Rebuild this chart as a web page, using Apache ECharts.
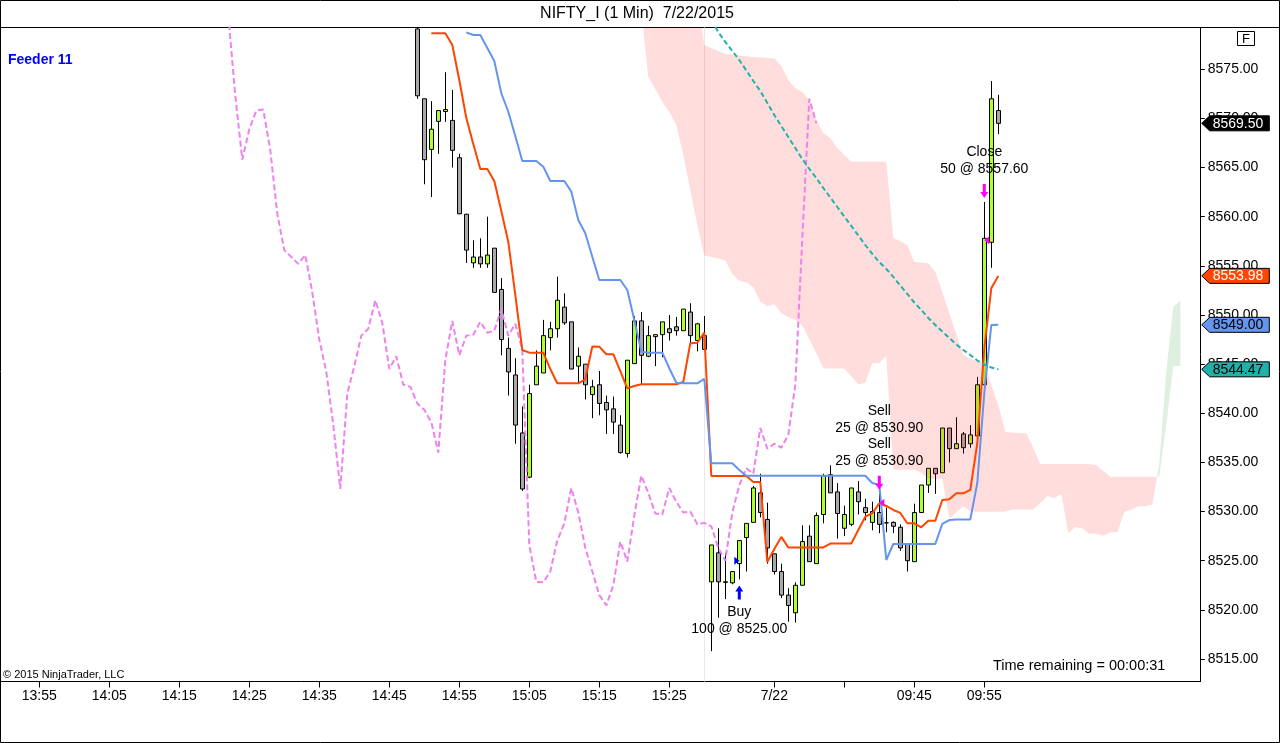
<!DOCTYPE html>
<html><head><meta charset="utf-8">
<script src="https://cdn.jsdelivr.net/npm/echarts@6/dist/echarts.min.js"></script>
<style>html,body{margin:0;padding:0;background:#fff}#c{width:1280px;height:743px}</style>
</head><body><div id="c"></div>
<script>
// ---------- data ----------
const chartTitle = 'NIFTY_I (1 Min)  7/22/2015';
const session1Start = '13:50', session1End = '15:30', session2Start = '09:16';
const totalSlots = 171;
const firstBarTime = '14:48';

const opens = [8584.0,8579.1,8572.0,8566.85,8569.7,8570.7,8569.8,8566.0,8560.25,8555.3,8555.9,
 8555.2,8556.8,8552.6,8546.6,8543.9,8538.0,8533.5,8542.9,8544.1,8547.7,
 8548.6,8550.8,8549.3,8544.8,8545.0,8541.9,8542.9,8541.1,8540.45,8538.8,
 8535.9,8545.05,8549.4,8545.8,8547.8,8548.0,8548.6,8548.8,8548.4,8550.3,
 8547.4,8547.9,8522.85,8525.8,8522.85,8522.75,8524.7,8527.35,8528.9,8531.9,
 8529.2,8525.7,8523.9,8521.5,8519.7,8522.5,8527.5,8524.7,8529.7,8533.75,
 8532.0,8528.3,8528.7,8532.0,8530.4,8528.9,8529.9,8528.85,8528.9,8528.4,
 8526.7,8524.9,8529.9,8532.7,8534.4,8533.95,8538.5,8536.4,8537.9,8536.9,
 8537.7,8542.9,8557.4,8570.8];
const highs = [8584.6,8579.2,8572.0,8571.75,8570.8,8574.7,8572.9,8566.4,8560.3,8557.6,8557.8,
 8560.0,8556.8,8553.75,8547.7,8545.6,8540.7,8542.9,8546.4,8549.5,8549.3,
 8553.9,8552.2,8549.3,8546.7,8545.0,8543.4,8544.3,8541.8,8541.7,8539.8,
 8545.4,8549.9,8550.3,8548.9,8548.0,8549.3,8550.0,8549.8,8550.6,8551.2,
 8549.2,8549.9,8526.6,8528.3,8525.8,8523.9,8527.05,8528.8,8532.6,8533.85,
 8530.9,8525.7,8524.7,8522.2,8522.8,8528.6,8528.6,8529.9,8533.85,8534.7,
 8532.9,8530.6,8532.4,8533.1,8531.3,8531.0,8531.8,8530.4,8529.0,8528.7,
 8526.8,8530.8,8532.7,8534.4,8534.4,8538.5,8538.5,8539.6,8538.1,8538.8,
 8543.7,8561.5,8573.8,8572.4];
const lows = [8580.0,8572.0,8563.3,8562.0,8566.4,8569.65,8565.0,8560.25,8555.3,8554.8,8554.8,
 8554.8,8552.3,8545.9,8541.8,8536.9,8532.1,8533.4,8542.9,8544.1,8546.4,
 8547.7,8549.0,8544.5,8543.0,8541.4,8539.5,8539.8,8537.9,8537.9,8535.9,
 8535.5,8545.05,8543.0,8545.7,8544.8,8545.7,8547.4,8547.9,8548.4,8547.05,
 8546.3,8546.5,8515.8,8519.2,8521.1,8522.6,8523.1,8523.9,8528.9,8529.4,
 8524.7,8523.6,8521.2,8518.8,8518.7,8522.5,8524.9,8524.7,8528.8,8531.9,
 8527.25,8527.5,8528.5,8529.7,8529.1,8528.1,8527.8,8527.9,8527.8,8526.0,
 8523.9,8524.9,8529.9,8531.9,8531.8,8533.95,8535.0,8536.4,8535.9,8536.5,
 8537.7,8542.9,8554.8,8568.4];
const closes = [8580.5,8572.3,8565.8,8568.9,8570.8,8570.9,8566.75,8560.3,8556.6,8555.9,8555.2,
 8556.1,8552.3,8547.5,8544.2,8538.8,8532.3,8542.0,8544.8,8547.9,8548.6,
 8551.5,8549.2,8544.5,8545.8,8542.9,8542.7,8541.0,8540.35,8539.1,8536.0,
 8545.4,8549.4,8545.9,8547.9,8548.0,8549.3,8548.2,8548.4,8550.6,8547.9,
 8549.1,8546.5,8526.6,8522.85,8522.8,8523.9,8527.05,8528.8,8532.4,8529.9,
 8526.3,8523.9,8521.5,8520.45,8522.5,8526.95,8524.9,8529.6,8533.65,8531.9,
 8529.8,8529.7,8532.4,8531.0,8529.9,8530.0,8528.7,8528.85,8528.5,8526.3,
 8525.0,8529.9,8532.7,8534.4,8533.85,8538.5,8536.4,8536.9,8536.5,8537.8,
 8542.9,8557.8,8572.0,8569.5];

// Ichimoku conversion line (orange), first value at bar index 3
const tenkanStart = 3;
const tenkan = [8578.66,8578.66,8578.66,8577.47,8573.91,8570.04,8567.40,8564.86,
 8564.86,8563.63,8560.58,8557.43,8552.04,8546.44,8546.17,8546.17,8546.17,8544.51,
 8543.05,8543.05,8543.05,8543.05,8543.46,8546.80,8546.78,8546.01,8546.01,8544.30,
 8542.53,8542.78,8542.96,8542.96,8542.96,8542.96,8542.96,8542.96,8543.18,8547.12,
 8547.18,8548.22,8533.62,8533.62,8533.62,8533.62,8533.62,8533.62,8533.01,8533.01,
 8524.87,8526.19,8527.42,8526.35,8526.35,8526.35,8526.35,8526.35,8526.35,8526.75,
 8526.75,8526.75,8526.75,8528.13,8529.48,8529.83,8530.84,8530.57,8530.16,8529.86,
 8528.81,8528.81,8528.40,8529.07,8529.07,8531.18,8531.25,8531.86,8531.86,8532.20,
 8536.95,8546.6,8552.72,8553.98];
// Ichimoku base line (blue), first value at bar index 8
const kijunStart = 8;
const kijun = [8578.76,8578.49,8578.49,
 8577.17,8575.84,8572.56,8570.68,8568.21,8565.67,8565.67,8565.67,8565.09,8563.63,
 8563.63,8563.63,8562.55,8559.67,8558.31,8555.93,8553.56,8553.56,8553.56,8553.56,
 8552.54,8549.49,8546.27,8546.17,8546.17,8546.17,8544.58,8543.11,8543.05,8543.05,
 8543.05,8543.49,8534.91,8534.91,8534.91,8534.91,8534.23,8533.65,8533.65,8533.65,
 8533.65,8533.65,8533.65,8533.65,8533.65,8533.65,8533.65,8533.65,8533.65,8533.65,
 8533.65,8533.65,8533.65,8533.65,8533.65,8532.91,8532.71,8525.07,8526.70,8526.70,
 8526.70,8526.70,8526.70,8526.70,8526.70,8528.74,8529.14,8529.20,8529.20,8529.20,
 8532.91,8542.07,8548.98,8549.00];
// moving average (teal dashed), first value at bar index 43
const maStart = 43;
const ma = [8580.01,8578.79,8577.78,8576.86,8575.94,8574.88,8573.81,8572.79,
 8571.57,8570.35,8569.23,8568.11,8566.99,8565.87,8564.86,8563.94,8562.92,8561.96,
 8560.99,8560.02,8559.06,8558.09,8557.12,8556.21,8555.39,8554.68,8553.87,8553.00,
 8552.14,8551.27,8550.51,8549.70,8548.98,8548.32,8547.66,8547.00,8546.44,8545.93,
 8545.37,8544.96,8544.66,8544.47];
// cloud (already displaced forward), first value at bar index 33
const cloudStart = 33;
const spanA = [8581,8574.25,8573.00,8571.70,8570.65,8569.33,8566.28,8562.72,8559.16,8556.05,
 8555.90,8555.75,8555.55,8554.17,8553.46,8553.34,8552.80,8551.35,8550.89,8551.10,
 8550.17,8549.79,8549.50,8548.93,8547.54,8546.14,8544.58,8544.56,8544.56,8544.56,
 8543.76,8542.94,8543.11,8545.09,8545.12,8545.86,8534.26,8534.26,8534.26,8534.26,
 8533.93,8533.33,8533.33,8533.33,8529.26,8529.92,8530.53,8530.02,8529.97,8529.97,
 8529.97,8529.97,8529.97,8530.2,8530.2,8530.2,8530.2,8530.88,8531.57,8531.38,
 8531.79,8527.82,8528.43,8528.28,8527.75,8527.75,8527.55,8527.89,8527.89,8529.96,
 8530.19,8530.53,8530.53,8530.70,8534.94,8544.34,8550.85,8551.49];
const spanB = [8582,8582,8582,8582,8582,8582,8582,8582,8582,8577.47,
 8577.17,8576.86,8576.56,8576.50,8576.40,8576.30,8576.25,8576.20,8576.15,8576.12,
 8575.34,8573.91,8573.10,8572.69,8571.88,8569.84,8568.52,8568.01,8566.99,8566.28,
 8565.60,8565.60,8565.60,8565.60,8565.60,8565.60,8557.84,8557.53,8557.12,8555.42,
 8555.34,8555.26,8554.41,8552.34,8550.20,8548.07,8545.93,8545.52,8545.32,8545.12,
 8542.88,8540.84,8538.13,8538.05,8538.00,8537.97,8536.47,8534.85,8534.85,8534.85,
 8534.85,8534.85,8534.85,8534.85,8534.85,8534.74,8534.13,8533.55,8533.55,8533.55,
 8533.55,8533.55,8533.55,8533.55,8533.55,8538.85,8544.8,8544.8];
const chikouShift = 26;

const tickTimes = ['13:55','14:05','14:15','14:25','14:35','14:45','14:55','15:05','15:15','15:25','09:25','09:35','09:45','09:55'];
const tickTexts = ['13:55','14:05','14:15','14:25','14:35','14:45','14:55','15:05','15:15','15:25','7/22','','09:45','09:55'];
const yTicks = [8515,8520,8525,8530,8535,8540,8545,8550,8555,8560,8565,8570,8575];
const yMin = 8512.71, yMax = 8579.25;

const tradeTimes = ['09:20','09:40','09:55'];
const tradePrices = [8525.00, 8530.90, 8557.60];
const tradeSides = ['buy','sell','sell'];
const tradeTexts = [['Buy','100 @ 8525.00'],['Sell','25 @ 8530.90','Sell','25 @ 8530.90'],['Close','50 @ 8557.60']];

// ---------- build ----------
const FONT = '"Liberation Sans", Arial, Helvetica, sans-serif';
function pad(n){return (n<10?'0':'')+n;}
function toMin(t){const p=t.split(':').map(Number);return p[0]*60+p[1];}
function fmt(m){return pad(Math.floor(m/60))+':'+pad(m%60);}
const categories = [];
for (let m=toMin(session1Start); m<=toMin(session1End); m++) categories.push(fmt(m));
for (let m=toMin(session2Start); categories.length<totalSlots; m++) categories.push(fmt(m));
const barStart = categories.indexOf(firstBarTime);

const candleData = opens.map((o,i)=>[barStart+i, o, closes[i], lows[i], highs[i]]);
const tenkanData = tenkan.map((v,j)=>[barStart+tenkanStart+j, v]);
const kijunData = kijun.map((v,j)=>[barStart+kijunStart+j, v]);
const maData = ma.map((v,j)=>[barStart+maStart+j, v]);
const chikouData = closes.map((c,i)=>[barStart+i-chikouShift, c]);
const lastSlot = barStart + closes.length - 1;

function clipY(pts, Y, keepBelow){
  const out=[]; const n=pts.length;
  const inside = p => keepBelow ? p[1] >= Y : p[1] <= Y;
  for (let i=0;i<n;i++){
    const cur=pts[i], prev=pts[(i+n-1)%n];
    const ci=inside(cur), pi=inside(prev);
    const inter = () => { const t=(Y-prev[1])/(cur[1]-prev[1]); return [prev[0]+t*(cur[0]-prev[0]), Y]; };
    if (ci){ if(!pi) out.push(inter()); out.push(cur); }
    else if (pi) out.push(inter());
  }
  return out;
}

function renderCloud(params, api){
  if (params.dataIndex !== 0) return null;
  const cs = params.coordSys;
  const n = spanA.length;
  const PA=[], PB=[], D=[];
  for (let i=0;i<n;i++){
    const s = barStart+cloudStart+i;
    PA.push(api.coord([s, spanA[i]])); PB.push(api.coord([s, spanB[i]]));
    D.push(spanB[i]-spanA[i]);
  }
  const polys=[];
  let upper=[], lower=[], sign = D[0]>=0 ? 1 : -1;
  for (let i=0;i<n;i++){
    upper.push(PB[i]); lower.push(PA[i]);
    if (i<n-1){
      const s2 = D[i+1]>=0 ? 1 : -1;
      if (s2!==sign){
        const t = D[i]/(D[i]-D[i+1]);
        const cx = PA[i][0]+t*(PA[i+1][0]-PA[i][0]);
        const cy = PA[i][1]+t*(PA[i+1][1]-PA[i][1]);
        upper.push([cx,cy]);
        polys.push({sign, pts: upper.concat(lower.slice().reverse())});
        upper=[[cx,cy]]; lower=[]; sign=s2;
      }
    }
  }
  polys.push({sign, pts: upper.concat(lower.slice().reverse())});
  const children = polys.map(p=>{
    let pts = clipY(p.pts, cs.y, true);
    pts = clipY(pts, cs.y+cs.height, false);
    return {type:'polygon', shape:{points:pts}, style:{fill: p.sign>0 ? 'rgba(255,0,0,0.135)' : 'rgba(0,128,0,0.12)'}};
  });
  return {type:'group', children};
}

function renderBreak(params, api){
  const cs = params.coordSys;
  const x = Math.round(api.coord([api.value(0), yMin])[0]) + 0.5;
  return {type:'line', shape:{x1:x, y1:cs.y, x2:x, y2:cs.y+cs.height}, style:{stroke:'#e8e8e8', lineWidth:1}};
}

function renderTrades(params, api){
  const i = params.dataIndex;
  const slot = api.value(0);
  const bar = slot - barStart;
  const buy = tradeSides[i] === 'buy';
  const color = buy ? '#0000FF' : '#FF00FF';
  const a = api.coord([slot, buy ? lows[bar] : highs[bar]]);
  const e = api.coord([slot, tradePrices[i]]);
  const cx = a[0], cy = a[1] + (buy ? 13 : -11);
  const s = buy ? -1 : 1;
  const children = [];
  children.push({type:'polygon', shape:{points:[[cx,cy+7*s],[cx-4,cy+1*s],[cx-1.5,cy+1*s],[cx-1.5,cy-7*s],[cx+1.5,cy-7*s],[cx+1.5,cy+1*s],[cx+4,cy+1*s]]}, style:{fill:color}});
  const ex=e[0], ey=e[1];
  const tri = buy ? [[ex,ey],[ex-5,ey-4],[ex-5,ey+4]] : [[ex,ey],[ex+5,ey-4],[ex+5,ey+4]];
  children.push({type:'polygon', shape:{points:tri}, style:{fill:color}});
  const lines = tradeTexts[i];
  lines.forEach((t,j)=>{
    const y = buy ? cy + 20 + 16.5*j : cy - 22 - 16.5*(lines.length-1-j);
    children.push({type:'text', style:{text:t, x:cx, y:y, fill:'#000', font:'14px '+FONT, align:'center', verticalAlign:'middle', textAlign:'center', textVerticalAlign:'middle'}});
  });
  return {type:'group', children};
}

const tagValues = [closes[closes.length-1], tenkan[tenkan.length-1], kijun[kijun.length-1], ma[ma.length-1]];
const tagFill = ['#000000','#FF4500','#6495ED','#20B2AA'];
const tagTextColor = ['#FFFFFF','#FFFFFF','#000000','#000000'];
function renderTags(params, api){
  const i = params.dataIndex;
  const y = api.coord([api.value(0), api.value(1)])[1];
  const cs = params.coordSys;
  const x0 = cs.x + cs.width + 3.9, x1 = x0 + 67.6, h = 7.5;
  return {type:'group', children:[
    {type:'polygon', shape:{points:[[x0,y],[x0+8,y-h],[x1,y-h],[x1,y+h],[x0+8,y+h]]}, style:{fill:tagFill[i], stroke:'#000', lineWidth:1}},
    {type:'text', style:{text:tagValues[i].toFixed(2), x:x0+11, y:y+0.5, fill:tagTextColor[i], font:'14px '+FONT, align:'left', verticalAlign:'middle', textAlign:'left', textVerticalAlign:'middle'}}
  ]};
}

const chart = echarts.init(document.getElementById('c'));
chart.setOption({
  animation:false,
  backgroundColor:'#ffffff',
  grid:{left:0.8, top:27.5, width:1197, height:654, containLabel:false},
  xAxis:{type:'category', data:categories, boundaryGap:true,
    axisLine:{show:false},
    axisTick:{show:true, alignWithLabel:true, length:6, interval:(i,v)=>tickTimes.includes(v), lineStyle:{color:'#000'}},
    axisLabel:{interval:(i,v)=>tickTimes.includes(v), formatter:v=>{const k=tickTimes.indexOf(v);return k<0?'':tickTexts[k];}, color:'#000', fontSize:14, fontFamily:FONT, margin:8},
    splitLine:{show:false}},
  yAxis:{type:'value', position:'right', offset:3, min:yMin, max:yMax, scale:true,
    axisLine:{show:false},
    axisTick:{show:true, customValues:yTicks, length:4, lineStyle:{color:'#000'}},
    axisLabel:{customValues:yTicks, formatter:v=>Number(v).toFixed(2), color:'#000', fontSize:14, fontFamily:FONT, margin:7},
    splitLine:{show:false}},
  series:[
    {type:'custom', name:'break', data:[[categories.indexOf(session1End)]], renderItem:renderBreak, z:1, silent:true},
    {type:'candlestick', name:'price', data:candleData, encode:{x:0, y:[1,2,3,4]}, barWidth:5, z:2, silent:true, clip:true,
      itemStyle:{color:'#ADFF2F', color0:'#A9A9A9', borderColor:'#000', borderColor0:'#000', borderColorDoji:'#000', borderWidth:1}},
    {type:'custom', name:'cloud', data:[[0]], renderItem:renderCloud, z:3, silent:true},
    {type:'line', name:'chikou', data:chikouData, symbol:'none', lineStyle:{color:'#EE82EE', width:2, type:[6,3]}, z:4, silent:true},
    {type:'line', name:'tenkan', data:tenkanData, symbol:'none', lineStyle:{color:'#FF4500', width:2}, z:4, silent:true},
    {type:'line', name:'kijun', data:kijunData, symbol:'none', lineStyle:{color:'#6495ED', width:2}, z:4, silent:true},
    {type:'line', name:'ma', data:maData, symbol:'none', lineStyle:{color:'#20B2AA', width:2, type:[5,3]}, z:4, silent:true},
    {type:'custom', name:'trades', data:tradeTimes.map((t,i)=>[categories.indexOf(t), tradePrices[i]]), renderItem:renderTrades, z:6, silent:true},
    {type:'custom', name:'tags', data:tagValues.map(v=>[lastSlot, v]), renderItem:renderTags, z:10, silent:true, clip:false}
  ],
  graphic:[
    {type:'line', shape:{x1:0, y1:27.5, x2:1280, y2:27.5}, style:{stroke:'#000', lineWidth:1}, silent:true},
    {type:'line', shape:{x1:0, y1:681.5, x2:1201, y2:681.5}, style:{stroke:'#000', lineWidth:1}, silent:true},
    {type:'line', shape:{x1:1200.5, y1:27.5, x2:1200.5, y2:681.5}, style:{stroke:'#000', lineWidth:1}, silent:true},
    {type:'rect', shape:{x:0.5, y:0.5, width:1279, height:742}, style:{fill:null, stroke:'#000', lineWidth:1}, silent:true},
    {type:'text', x:637, y:14, style:{text:chartTitle, font:'16px '+FONT, fill:'#000', align:'center', verticalAlign:'middle', textAlign:'center', textVerticalAlign:'middle'}, silent:true},
    {type:'text', x:8, y:60, style:{text:'Feeder 11', font:'bold 14px '+FONT, fill:'#0000FF', align:'left', verticalAlign:'middle', textAlign:'left', textVerticalAlign:'middle'}, silent:true},
    {type:'text', x:3, y:675, style:{text:'\u00A9 2015 NinjaTrader, LLC', font:'11px '+FONT, fill:'#000', align:'left', verticalAlign:'middle', textAlign:'left', textVerticalAlign:'middle'}, silent:true},
    {type:'text', x:993, y:666, style:{text:'Time remaining = 00:00:31', font:'14.5px '+FONT, fill:'#000', align:'left', verticalAlign:'middle', textAlign:'left', textVerticalAlign:'middle'}, silent:true},
    {type:'rect', shape:{x:1237.5, y:31.5, width:17, height:14}, style:{fill:'#fff', stroke:'#000', lineWidth:1}, silent:true},
    {type:'text', x:1246, y:39, style:{text:'F', font:'13px '+FONT, fill:'#000', align:'center', verticalAlign:'middle', textAlign:'center', textVerticalAlign:'middle'}, silent:true}
  ]
});
</script></body></html>
